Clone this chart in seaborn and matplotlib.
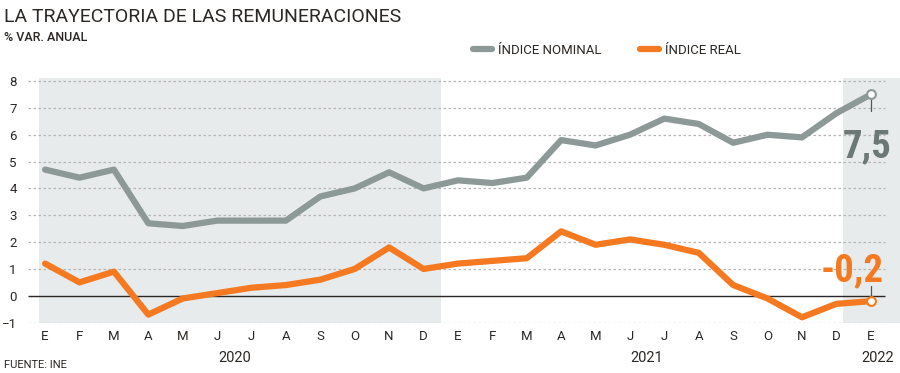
import pandas as pd
import seaborn as sns
import matplotlib.pyplot as plt
from matplotlib import font_manager

meses = ['E', 'F', 'M', 'A', 'M', 'J', 'J', 'A', 'S', 'O', 'N', 'D',
         'E', 'F', 'M', 'A', 'M', 'J', 'J', 'A', 'S', 'O', 'N', 'D', 'E']
anios = ['2020', '2021', '2022']
nominal = [4.7, 4.4, 4.7, 2.7, 2.6, 2.8, 2.8, 2.8, 3.7, 4.0, 4.6, 4.0,
           4.3, 4.2, 4.4, 5.8, 5.6, 6.0, 6.6, 6.4, 5.7, 6.0, 5.9, 6.8, 7.5]
real = [1.2, 0.5, 0.9, -0.7, -0.1, 0.1, 0.3, 0.4, 0.6, 1.0, 1.8, 1.0,
        1.2, 1.3, 1.4, 2.4, 1.9, 2.1, 1.9, 1.6, 0.4, -0.1, -0.8, -0.3, -0.2]

gris = '#8c9997'
naranja = '#f47920'
texto = '#2b2724'

idx = list(range(len(meses)))
df = pd.DataFrame({
    'mes': idx * 2,
    'valor': nominal + real,
    'serie': ['ÍNDICE NOMINAL'] * len(idx) + ['ÍNDICE REAL'] * len(idx),
})

sns.set_style('white')
plt.rcParams['font.family'] = ['Roboto', 'DejaVu Sans']

# fuente estrecha si existe
nombres = {f.name for f in font_manager.fontManager.ttflist}
estrecha = 'Roboto'
for n in ['Liberation Sans Narrow', 'Roboto Condensed', 'DejaVu Sans Condensed']:
    if n in nombres:
        estrecha = n
        break

fig = plt.figure(figsize=(9, 3.73), dpi=100)
ax = fig.add_axes([0.031, 0.135, 0.969, 0.655])

# zonas sombreadas
ax.axvspan(-0.17, 11.5, color='#e8ebeb', lw=0, zorder=0)
ax.axvspan(23.2, 25, color='#e8ebeb', lw=0, zorder=0)

# rejilla punteada
for y in range(-1, 9):
    if y == 0:
        ax.hlines(0, -0.5, 24.4, color='#2b2724', lw=1, zorder=1)
    else:
        ax.hlines(y, -0.5, 24.4, color='#b5b5b5', lw=0.9, ls=(0, (2, 2)), zorder=1)

sns.lineplot(data=df, x='mes', y='valor', hue='serie',
             palette=[gris, naranja], lw=4.5, ax=ax, zorder=3)

ax.set_xlim(-0.5, 24.85)
ax.set_ylim(-1.0, 8.1)
ax.set_xticks(idx)
ax.set_xticklabels(meses)
ax.set_yticks(range(-1, 9))
ax.tick_params(axis='both', length=0, labelsize=9.5, colors=texto)
ax.tick_params(axis='x', pad=5)
ax.tick_params(axis='y', pad=8)
ax.set_xlabel('')
ax.set_ylabel('')
sns.despine(ax=ax, left=True, bottom=True, top=True, right=True)

# años
for x, a in zip([5.5, 17.5, 24.2], anios):
    ax.text(x, -2.3, a, ha='center', va='center', fontsize=10.5, color=texto)

# últimos valores
ultimo = len(idx) - 1
ax.plot([ultimo, ultimo], [nominal[-1], 6.9], color='#555', lw=0.9, zorder=2)
ax.plot([ultimo, ultimo], [real[-1], 0.35], color='#555', lw=0.9, zorder=2)
ax.scatter([ultimo], [nominal[-1]], s=40, color='white', edgecolor=gris, lw=1.5, zorder=5)
ax.scatter([ultimo], [real[-1]], s=40, color='white', edgecolor=naranja, lw=1.5, zorder=5)
ax.text(ultimo - 0.1, 5.15, '7,5', ha='center', va='baseline', fontsize=28, fontweight='bold',
        color='#6b7876', family=[estrecha, 'Roboto'])
ax.text(ultimo - 0.55, 0.55, '-0,2', ha='center', va='baseline', fontsize=28, fontweight='bold',
        color=naranja, family=[estrecha, 'Roboto'])

sns.move_legend(ax, 'center left', bbox_to_anchor=(0.497, 1.115), ncol=2, frameon=False,
                title=None, fontsize=9.5, handlelength=1.4, columnspacing=2.9,
                handletextpad=0.5)
for t in ax.get_legend().get_texts():
    t.set_color(texto)

fig.text(0.004, 0.955, 'LA TRAYECTORIA DE LAS REMUNERACIONES', fontsize=14, color=texto,
         va='center', ha='left')
fig.text(0.004, 0.9, '% VAR. ANUAL', fontsize=9, color=texto, va='center', ha='left',
         fontweight='medium')
fig.text(0.004, 0.022, 'FUENTE: INE', fontsize=8, color=texto, va='center', ha='left')

fig.savefig('out.png', dpi=100)
